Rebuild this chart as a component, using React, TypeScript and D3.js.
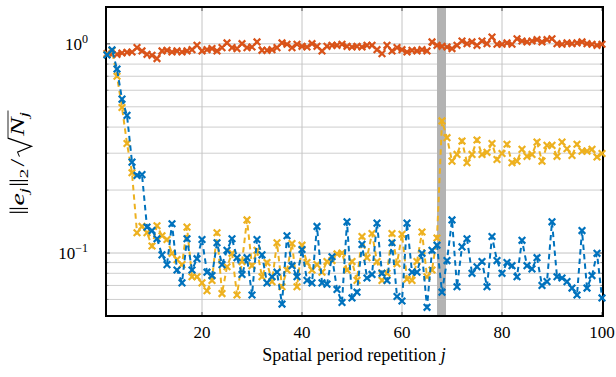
import React, { useEffect, useRef } from 'react';
import * as d3 from 'd3';

// series values, index i -> repetition j = i + 1
const redValues = [
  0.898, 0.891, 0.891, 0.904, 0.911, 0.914, 0.959, 0.925, 0.891, 0.881,
  0.850, 0.925, 0.931, 0.914, 0.925, 0.914, 0.925, 0.938, 0.984, 0.925,
  0.938, 0.949, 0.925, 0.959, 1.010, 0.959, 0.949, 1.002, 0.959, 0.966,
  1.021, 0.931, 0.931, 0.938, 0.959, 1.010, 0.995, 0.959, 0.995, 0.973,
  0.966, 1.002, 0.973, 0.925, 0.973, 0.984, 0.984, 0.995, 0.973, 0.966,
  0.973, 0.966, 0.984, 0.984, 0.938, 0.898, 0.984, 0.925, 0.959, 0.938,
  0.914, 0.931, 0.925, 0.938, 0.925, 1.021, 0.984, 0.973, 0.966, 0.949,
  0.984, 1.032, 1.002, 1.021, 0.984, 1.032, 1.002, 1.078, 0.995, 0.995,
  1.010, 0.995, 1.058, 1.032, 1.021, 1.032, 1.047, 1.021, 1.047, 1.058,
  1.002, 0.995, 1.010, 1.002, 1.010, 1.021, 1.002, 0.995, 0.984, 0.995,
];

const yellowValues = [
  0.89, 0.93, 0.70, 0.496, 0.334, 0.242, 0.125, 0.134, 0.125, 0.108,
  0.135, 0.121, 0.116, 0.0997, 0.093, 0.088, 0.133, 0.077, 0.077, 0.072,
  0.066, 0.074, 0.125, 0.064, 0.086, 0.0997, 0.063, 0.091, 0.144, 0.087,
  0.103, 0.077, 0.090, 0.073, 0.112, 0.069, 0.083, 0.111, 0.069, 0.109,
  0.090, 0.083, 0.088, 0.081, 0.091, 0.092, 0.099, 0.100, 0.083, 0.091,
  0.074, 0.120, 0.095, 0.124, 0.091, 0.074, 0.080, 0.124, 0.089, 0.123,
  0.075, 0.074, 0.091, 0.126, 0.077, 0.083, 0.118, 0.428, 0.356, 0.275,
  0.296, 0.343, 0.270, 0.296, 0.347, 0.296, 0.303, 0.334, 0.280, 0.299,
  0.331, 0.270, 0.275, 0.313, 0.290, 0.296, 0.339, 0.275, 0.327, 0.327,
  0.290, 0.339, 0.315, 0.293, 0.331, 0.307, 0.307, 0.313, 0.288, 0.299,
];

const blueValues = [
  0.885, 0.935, 0.758, 0.544, 0.455, 0.272, 0.235, 0.237, 0.133, 0.128,
  0.117, 0.098, 0.088, 0.138, 0.083, 0.072, 0.117, 0.083, 0.094, 0.116,
  0.081, 0.078, 0.112, 0.088, 0.103, 0.117, 0.095, 0.079, 0.095, 0.063,
  0.116, 0.098, 0.072, 0.077, 0.081, 0.057, 0.121, 0.087, 0.077, 0.104,
  0.074, 0.072, 0.134, 0.072, 0.071, 0.096, 0.067, 0.058, 0.141, 0.061,
  0.065, 0.110, 0.076, 0.079, 0.139, 0.080, 0.074, 0.112, 0.062, 0.059,
  0.139, 0.081, 0.081, 0.0997, 0.055, 0.103, 0.109, 0.065, 0.092, 0.144,
  0.069, 0.107, 0.117, 0.080, 0.086, 0.091, 0.069, 0.120, 0.092, 0.080,
  0.090, 0.087, 0.077, 0.115, 0.087, 0.084, 0.095, 0.070, 0.073, 0.141,
  0.077, 0.076, 0.073, 0.068, 0.063, 0.128, 0.068, 0.078, 0.0997, 0.061,
];

const seriesOrder = [
  { name: 'red', values: redValues, color: '#D95319' },
  { name: 'yellow', values: yellowValues, color: '#EDB120' },
  { name: 'blue', values: blueValues, color: '#0072BD' },
];

const xDomain = [1, 100];
const yDomain = [0.05, 1.5];
const xTicks = [20, 40, 60, 80, 100];
const yMajorTicks = [0.1, 1];
const yMajorLabels = ['−1', '0'];
const yMinorTicks = [0.06, 0.07, 0.08, 0.09, 0.2, 0.3, 0.4, 0.5, 0.6, 0.7, 0.8, 0.9];
const bandRange = [67, 68.8];
const xLabel = 'Spatial period repetition ';

const W = 616;
const H = 377;
const M = { left: 107, right: 602, top: 7, bottom: 316 };
const FONT = "'Liberation Serif', 'DejaVu Serif', serif";

export default function App() {
  const ref = useRef<SVGSVGElement | null>(null);

  useEffect(() => {
    const svg = d3.select(ref.current);
    svg.selectAll('*').remove();

    const x = d3.scaleLinear().domain(xDomain).range([M.left, M.right]);
    const y = d3.scaleLog().domain(yDomain).range([M.bottom, M.top]);
    const fl = x(xDomain[0]) - 1;
    const fr = x(xDomain[1]) + 1;

    // grid
    const grid = svg.append('g');
    grid.selectAll('line.minor').data(yMinorTicks).join('line')
      .attr('x1', fl).attr('x2', fr)
      .attr('y1', (d) => y(d)).attr('y2', (d) => y(d))
      .attr('stroke', '#c8c8c8').attr('stroke-width', 0.9);
    grid.selectAll('line.majy').data(yMajorTicks).join('line')
      .attr('x1', fl).attr('x2', fr)
      .attr('y1', (d) => y(d)).attr('y2', (d) => y(d))
      .attr('stroke', '#c4c4c4').attr('stroke-width', 1);
    grid.selectAll('line.majx').data(xTicks.filter((t) => t < 100)).join('line')
      .attr('x1', (d) => x(d)).attr('x2', (d) => x(d))
      .attr('y1', M.top).attr('y2', M.bottom)
      .attr('stroke', '#c4c4c4').attr('stroke-width', 1);

    // band
    svg.append('rect')
      .attr('x', x(bandRange[0])).attr('width', x(bandRange[1]) - x(bandRange[0]))
      .attr('y', M.top).attr('height', M.bottom - M.top)
      .attr('fill', '#b3b3b3');

    // frame & ticks
    const ax = svg.append('g');
    ax.selectAll('line.tb').data(xTicks).join('line')
      .attr('x1', (d) => x(d)).attr('x2', (d) => x(d))
      .attr('y1', M.bottom).attr('y2', M.bottom - 4)
      .attr('stroke', '#555').attr('stroke-width', 1);
    ax.selectAll('line.tt').data(xTicks).join('line')
      .attr('x1', (d) => x(d)).attr('x2', (d) => x(d))
      .attr('y1', M.top).attr('y2', M.top + 4)
      .attr('stroke', '#555').attr('stroke-width', 1);
    [fl, fr].forEach((edge, k) => {
      const dir = k === 0 ? 1 : -1;
      ax.selectAll(null).data(yMajorTicks).join('line')
        .attr('x1', edge).attr('x2', edge + dir * 4)
        .attr('y1', (d) => y(d)).attr('y2', (d) => y(d))
        .attr('stroke', '#555').attr('stroke-width', 1);
      ax.selectAll(null).data(yMinorTicks).join('line')
        .attr('x1', edge).attr('x2', edge + dir * 2.5)
        .attr('y1', (d) => y(d)).attr('y2', (d) => y(d))
        .attr('stroke', '#777').attr('stroke-width', 0.8);
    });
    ax.append('rect')
      .attr('x', fl).attr('y', M.top)
      .attr('width', fr - fl).attr('height', M.bottom - M.top)
      .attr('fill', 'none').attr('stroke', '#000').attr('stroke-width', 2);

    // series
    const line = d3.line<number>()
      .x((_, i) => x(i + 1))
      .y((d) => y(d));
    const s = 3.3;
    seriesOrder.forEach((ser) => {
      const g = svg.append('g');
      g.append('path')
        .attr('d', line(ser.values) as string)
        .attr('fill', 'none').attr('stroke', ser.color)
        .attr('stroke-width', 2).attr('stroke-dasharray', '5.5,4');
      g.selectAll('path.m').data(ser.values).join('path')
        .attr('d', (d, i) => {
          const cx = x(i + 1);
          const cy = y(d);
          return `M${cx - s},${cy - s}L${cx + s},${cy + s}M${cx - s},${cy + s}L${cx + s},${cy - s}`;
        })
        .attr('stroke', ser.color).attr('stroke-width', 2.2).attr('fill', 'none');
    });

    // x tick labels
    svg.selectAll('text.xt').data(xTicks).join('text')
      .attr('x', (d) => x(d)).attr('y', 338)
      .attr('text-anchor', 'middle')
      .attr('font-family', FONT).attr('font-size', 17)
      .text((d) => String(d));

    // y tick labels
    yMajorTicks.forEach((t, i) => {
      const tx = svg.append('text')
        .attr('x', 88).attr('y', y(t) + 6)
        .attr('text-anchor', 'end')
        .attr('font-family', FONT).attr('font-size', 17);
      tx.append('tspan').text('10');
      tx.append('tspan').attr('dy', -7).attr('font-size', 12).text(yMajorLabels[i]);
    });

    // x label
    const xl = svg.append('text')
      .attr('x', 354).attr('y', 361)
      .attr('text-anchor', 'middle')
      .attr('font-family', FONT).attr('font-size', 18);
    xl.append('tspan').text(xLabel);
    xl.append('tspan').attr('font-style', 'italic').text('j');

    // y label
    const yl = svg.append('g');
    let cursor = 0;
    const piece = (txt: string, opts: { italic?: boolean; size?: number; dy?: number; gap?: number } = {}) => {
      const t = yl.append('text')
        .attr('x', cursor).attr('y', opts.dy ?? 0)
        .attr('font-family', FONT).attr('font-size', opts.size ?? 19)
        .attr('font-style', opts.italic ? 'italic' : 'normal')
        .text(txt);
      const w = (t.node() as SVGTextElement).getComputedTextLength();
      cursor += w + (opts.gap ?? 0);
    };
    const bar = (gapAfter: number) => {
      [0.8, 3.4].forEach((off) => {
        yl.append('line')
          .attr('x1', cursor + off).attr('x2', cursor + off)
          .attr('y1', 4.5).attr('y2', -14)
          .attr('stroke', '#000').attr('stroke-width', 0.8);
      });
      cursor += 4.4 + gapAfter;
    };
    bar(1);
    piece('e', { italic: true });
    piece('j', { italic: true, size: 13, dy: 4, gap: 1.5 });
    bar(0.5);
    piece('2', { size: 13, dy: 4, gap: 1.5 });
    piece('/', { gap: 1.5 });
    const rx = cursor;
    const nStart = rx + 14;
    cursor = nStart;
    piece('N', { italic: true });
    piece('j', { italic: true, size: 13, dy: 4 });
    const end = cursor + 1;
    yl.append('path')
      .attr('d', `M${rx},${-4}L${rx + 3},${-6}L${rx + 7},${8}L${rx + 12.5},${-15.5}L${end},${-15.5}`)
      .attr('fill', 'none').attr('stroke', '#000').attr('stroke-width', 0.85);
    const total = 103;
    const sx = total / end;
    yl.attr('transform', `translate(23.5,${162 + total / 2}) rotate(-90) scale(${sx},1)`);
  }, []);

  return (
    <svg
      ref={ref}
      width={W}
      height={H}
      style={{ position: 'absolute', left: 0, top: 0, background: '#fff' }}
    />
  );
}
